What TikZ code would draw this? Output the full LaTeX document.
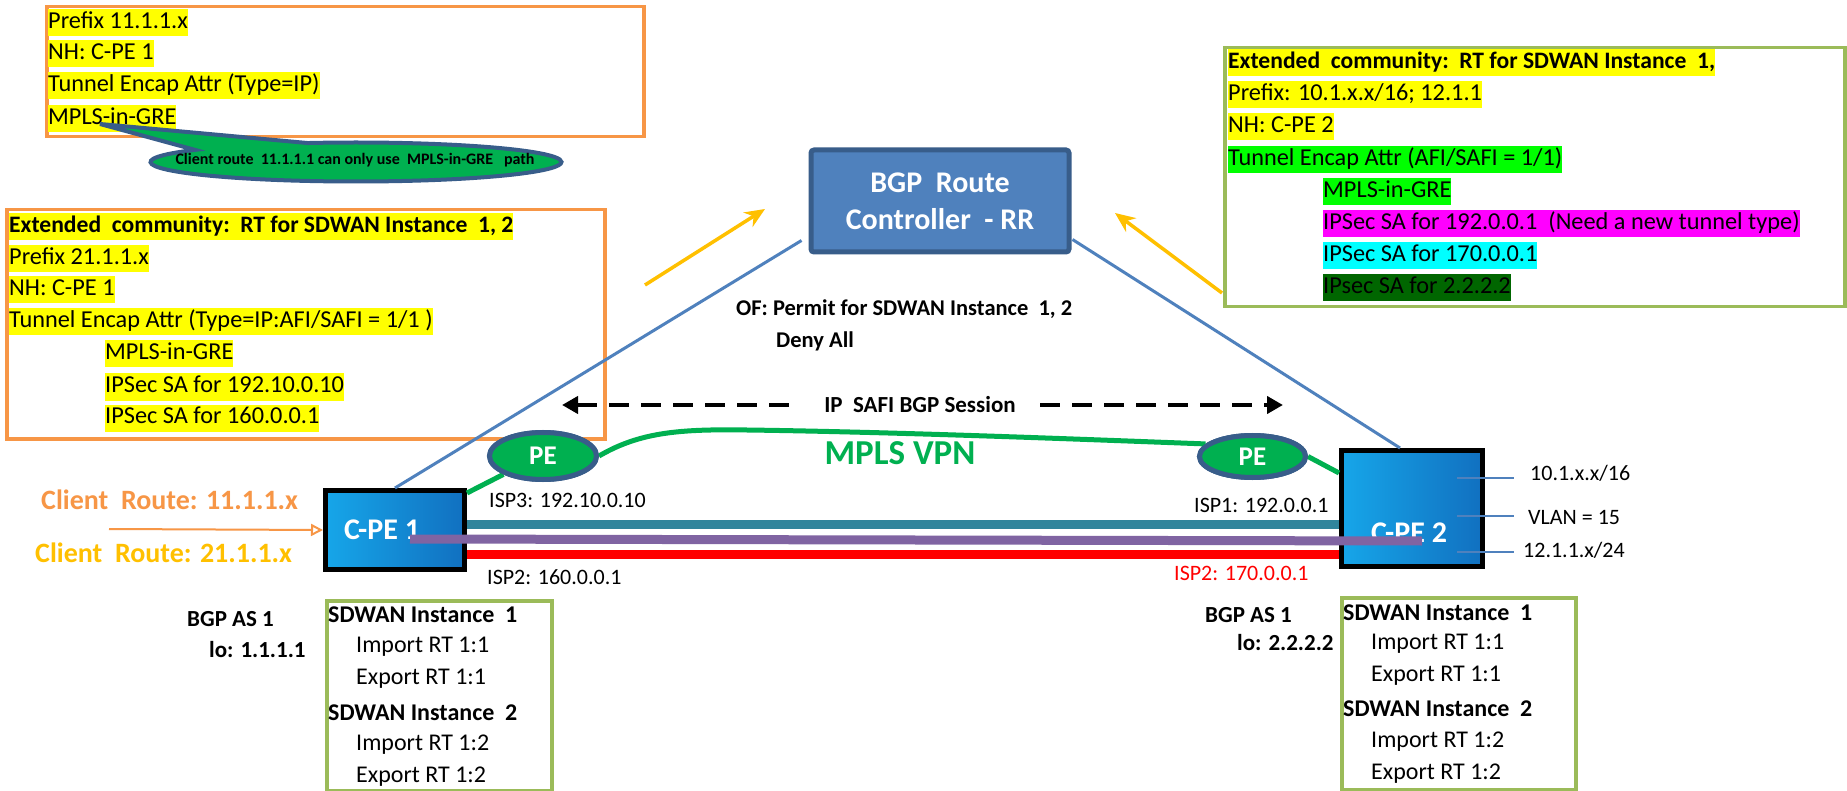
\documentclass[tikz,border=0pt]{standalone}
\usepackage{fontspec}
\setmainfont{Carlito}
\usetikzlibrary{arrows.meta,shapes.geometric,shapes.callouts,calc}
\definecolor{orangeb}{HTML}{F79646}
\definecolor{greenb}{HTML}{9BBB59}
\definecolor{hlyel}{HTML}{FFFF00}
\definecolor{hlgreen}{HTML}{00FF00}
\definecolor{hlmag}{HTML}{FF00FF}
\definecolor{hlcyan}{HTML}{00FFFF}
\definecolor{hldark}{HTML}{006600}
\definecolor{rrfill}{HTML}{4F81BD}
\definecolor{rrborder}{HTML}{385D8A}
\definecolor{mplsg}{HTML}{00B050}
\definecolor{goldc}{HTML}{FFC000}
\definecolor{tealc}{HTML}{31859C}
\definecolor{purp}{HTML}{8064A2}
\definecolor{cpeL}{HTML}{16A6E9}
\definecolor{cpeR}{HTML}{1170C0}
\newcommand\myfs[1]{\fontsize{#1}{#1}\selectfont}
\begin{document}
\begin{tikzpicture}[x=1pt,y=-1pt,
  obox/.style={draw=orangeb, line width=3.5pt, anchor=north west, inner sep=0pt},
  gbox/.style={draw=greenb, line width=3.5pt, anchor=north west, inner sep=0pt},
  hl/.style={fill=#1, anchor=west, inner xsep=0pt, inner ysep=0pt, text height=19pt, text depth=8pt, font=\myfs{24.3}},
  hlb/.style={hl=#1, font=\myfs{23.6}\bfseries},
  lbl/.style={anchor=west, inner sep=0pt, font=\myfs{22}},
  blbl/.style={anchor=west, inner sep=0pt, font=\myfs{23}\bfseries},
  sdw/.style={anchor=west, inner sep=0pt, font=\myfs{24}},
  sdwb/.style={anchor=west, inner sep=0pt, font=\myfs{24}\bfseries},
  cpe/.style={draw=black, line width=5pt, left color=cpeL, right color=cpeR, inner sep=0pt},
  cpetext/.style={text=white, font=\myfs{30}\bfseries, inner sep=0pt},
  pe/.style={ellipse, draw=rrborder, fill=mplsg, line width=5pt, inner sep=0pt, text=white, font=\myfs{27}\bfseries},
  rrline/.style={draw=rrfill, line width=3pt},
  yarrow/.style={draw=goldc, line width=3.5pt, -{Stealth[length=20pt,width=17pt]}},
  mpls/.style={draw=mplsg, line width=5pt},
  sess/.style={draw=black, line width=4pt, dash pattern=on 20pt off 12pt},
  link/.style={line width=9pt},
  vlan/.style={draw=rrfill, line width=2.5pt}
]
\useasboundingbox (0,0) rectangle (1847,791);
\fill[white] (0,0) rectangle (1847,791);

% ---- boxes ----
\node[obox, minimum width=597pt, minimum height=130pt] (boxA) at (45,5) {};
\node[hl=hlyel] (a1) at (48,23) {Prefix 11.1.1.x};
\node[hl=hlyel] (a2) at (48,54) {NH: C-PE 1};
\node[hl=hlyel] (a3) at (48,86) {Tunnel Encap Attr (Type=IP)};
\node[hl=hlyel] (a4) at (48,119) {MPLS-in-GRE};

\node[obox, minimum width=598pt, minimum height=229pt] (boxB) at (5,208) {};
\node[hlb=hlyel] (b1) at (9,227) {Extended\ \ community:\ \ RT for SDWAN Instance\ \ 1, 2};
\node[hl=hlyel] (b2) at (9,259) {Prefix 21.1.1.x};
\node[hl=hlyel] (b3) at (9,290) {NH: C-PE 1};
\node[hl=hlyel] (b4) at (9,322) {Tunnel Encap Attr (Type=IP:AFI/SAFI = 1/1 )};
\node[hl=hlyel] (b5) at (105,354) {MPLS-in-GRE};
\node[hl=hlyel] (b6) at (105,387) {IPSec SA for 192.10.0.10};
\node[hl=hlyel] (b7) at (105,418) {IPSec SA for 160.0.0.1};

\node[gbox, minimum width=620pt, minimum height=259pt] (boxC) at (1223,46) {};
\node[hlb=hlyel] (c1) at (1228,63) {Extended\ \ community:\ \ RT for SDWAN Instance\ \ 1,};
\node[hl=hlyel] (c2) at (1228,95) {Prefix: 10.1.x.x/16; 12.1.1};
\node[hl=hlyel] (c3) at (1228,127) {NH: C-PE 2};
\node[hl=hlgreen] (c4) at (1228,160) {Tunnel Encap Attr (AFI/SAFI = 1/1)};
\node[hl=hlgreen] (c5) at (1323,192) {MPLS-in-GRE};
\node[hl=hlmag] (c6) at (1323,224) {IPSec SA for 192.0.0.1\ \ (Need a new tunnel type)};
\node[hl=hlcyan] (c7) at (1323,256) {IPSec SA for 170.0.0.1};
\node[hl=hldark] (c8) at (1323,288) {IPsec SA for 2.2.2.2};

% callout
\node[ellipse callout, draw=rrborder, fill=mplsg, line width=4pt, minimum width=411pt, minimum height=39pt,
      inner sep=0pt, callout absolute pointer={(100,124)}, callout pointer arc=38] (callout) at (356,162) {};
\node[font=\myfs{16}\bfseries, inner sep=0pt] (callouttext) at (355,160)
  {Client route\ \ 11.1.1.1 can only use\ \ MPLS-in-GRE\ \ \ path};

% ---- RR box and lines ----
\node[draw=rrborder, fill=rrfill, line width=5pt, rounded corners=3pt, minimum width=258pt, minimum height=102pt,
      inner sep=0pt, align=center, text=white, font=\fontsize{30}{37}\selectfont\bfseries] (rr) at (940,201)
  {BGP\ \ Route\\Controller\ \ - RR};

\node[cpe, minimum width=139pt, minimum height=79pt] (cpe1) at (395,530) {};
\node[cpe, minimum width=141pt, minimum height=116pt] (cpe2) at (1412,508.5) {};

\draw[rrline] ($(rr.south west)+(-7,-14)$) -- (cpe1.north);
\draw[rrline] ($(rr.south east)+(1,-15)$) -- ($(cpe2.north)+(-12,0)$);

\node[cpetext] (cpe1t) at (382,530) {C-PE 1};
\node[cpetext] (cpe2t) at (1409,533) {C-PE 2};

% yellow arrows
\coordinate (yl0) at (645,285);
\coordinate (yl1) at (765,209);
\coordinate (yr0) at (1222,293);
\coordinate (yr1) at (1115,213);
\draw[yarrow] (yl0) -- (yl1);
\draw[yarrow] (yr0) -- (yr1);

% OF text
\node[anchor=west, inner sep=0pt, font=\myfs{22.5}\bfseries] (of1) at (736,309) {OF: Permit for SDWAN Instance\ \ 1, 2};
\node[anchor=west, inner sep=0pt, font=\myfs{22.5}\bfseries] (of2) at (776,341) {Deny All};

% BGP session
\node[font=\myfs{23}\bfseries, inner sep=0pt] (sesst) at (920,405) {IP\ \ SAFI BGP Session};
\coordinate (s0) at (562,405);
\coordinate (s1) at (790,405);
\coordinate (s2) at (1040,405);
\coordinate (s3) at (1283,405);
\draw[sess, {Triangle[length=16pt,width=17pt]}-] (s0) -- (s1);
\draw[sess, -{Triangle[length=16pt,width=17pt]}] (s2) -- (s3);

% MPLS VPN
\node[pe, minimum width=107pt, minimum height=47pt] (pe1) at (543,456) {};
\node[pe, minimum width=106pt, minimum height=42pt] (pe2) at (1252.5,456.5) {};
\draw[mpls] ($(cpe1.north east)+(0,5)$) -- (pe1.south west);
\draw[mpls] (pe1.east) .. controls (640,432) and (680,429) .. (747,430) .. controls (900,432) and (1100,440) .. (pe2.165);
\draw[mpls] (pe2.east) -- ($(cpe2.north west)+(0,25)$);
\node[pe, minimum width=107pt, minimum height=47pt] (pe1b) at (543,456) {PE};
\node[pe, minimum width=106pt, minimum height=42pt] (pe2b) at (1252.5,456.5) {PE};
\node[font=\myfs{35}\bfseries, text=mplsg, inner sep=0pt] (mplst) at (900,453) {MPLS VPN};

% links
\draw[link, tealc] (cpe1.east |- 0,524) -- (cpe2.west |- 0,524);
\coordinate (pu0) at (410,539);
\coordinate (pu1) at (1422,541);
\draw[link, purp] (pu0) -- (pu1);
\draw[link, red] (cpe1.east |- 0,554) -- (cpe2.west |- 0,554);

\node[lbl] (isp3) at (489,500) {ISP3: 192.10.0.10};
\node[lbl] (isp2a) at (487,577) {ISP2: 160.0.0.1};
\node[lbl] (isp1) at (1194,505) {ISP1: 192.0.0.1};
\node[lbl, text=red] (isp2b) at (1174,573) {ISP2: 170.0.0.1};

% right side prefixes
\node[lbl] (p1) at (1530,473) {10.1.x.x/16};
\node[lbl] (p2) at (1528,517) {VLAN = 15};
\node[lbl] (p3) at (1523,550) {12.1.1.x/24};
\coordinate (v1) at (1457,478);
\coordinate (v2) at (1457,516);
\coordinate (v3) at (1457,552);
\coordinate (w1) at (1514,478);
\coordinate (w2) at (1514,516);
\coordinate (w3) at (1514,552);
\draw[vlan] (v1) -- (w1);
\draw[vlan] (v2) -- (w2);
\draw[vlan] (v3) -- (w3);

% client routes
\node[anchor=west, inner sep=0pt, font=\myfs{28}\bfseries, text=orangeb] (cr1) at (41,500) {Client\ \ Route: 11.1.1.x};
\node[anchor=west, inner sep=0pt, font=\myfs{28}\bfseries, text=goldc] (cr2) at (35,553) {Client\ \ Route: 21.1.1.x};
\coordinate (crt) at (109,529);
\draw[draw=orangeb, line width=2pt, -{Triangle[open,length=12pt,width=12pt]}] (crt) -- (cpe1.west);

% BGP AS
\node[blbl] (as1) at (187,619) {BGP AS 1};
\node[blbl] (lo1) at (209,650) {lo: 1.1.1.1};
\node[blbl] (as2) at (1205,615) {BGP AS 1};
\node[blbl] (lo2) at (1237,643) {lo: 2.2.2.2};

% SDWAN boxes
\node[gbox, minimum width=225pt, minimum height=190pt] (sdL) at (325,599) {};
\node[sdwb] (l1) at (328,615) {SDWAN Instance\ \ 1};
\node[sdw] (l2) at (356,647) {Import RT 1:1};
\node[sdw] (l3) at (356,679) {Export RT 1:1};
\node[sdwb] (l4) at (328,713) {SDWAN Instance\ \ 2};
\node[sdw] (l5) at (356,745) {Import RT 1:2};
\node[sdw] (l6) at (356,777) {Export RT 1:2};

\node[gbox, minimum width=234pt, minimum height=192pt] (sdR) at (1340,596) {};
\node[sdwb] (r1) at (1343,613) {SDWAN Instance\ \ 1};
\node[sdw] (r2) at (1371,644) {Import RT 1:1};
\node[sdw] (r3) at (1371,676) {Export RT 1:1};
\node[sdwb] (r4) at (1343,709) {SDWAN Instance\ \ 2};
\node[sdw] (r5) at (1371,742) {Import RT 1:2};
\node[sdw] (r6) at (1371,774) {Export RT 1:2};
\end{tikzpicture}
\end{document}
